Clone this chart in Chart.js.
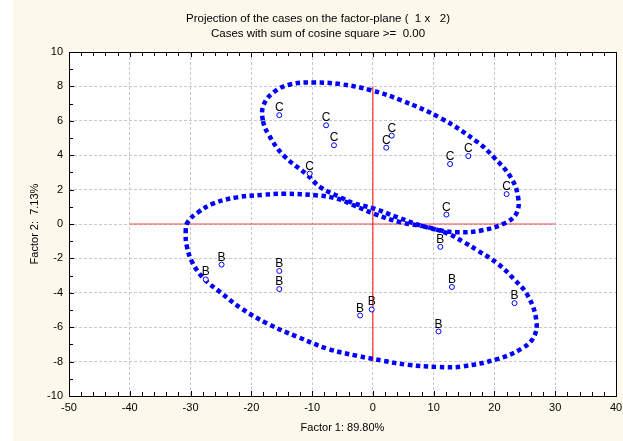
<!DOCTYPE html>
<html>
<head>
<meta charset="utf-8">
<script src="https://cdn.jsdelivr.net/npm/chart.js@4.4.1/dist/chart.umd.min.js"></script>
<style>
  html, body { margin: 0; padding: 0; background: #fff; }
</style>
</head>
<body>
<canvas id="plane" width="623" height="441"></canvas>
<script>
const titleLines = ['Projection of the cases on the factor-plane (  1 x   2)', 'Cases with sum of cosine square >=  0.00'];
const xTitle = 'Factor 1: 89.80%';
const yTitle = 'Factor 2:  7.13%';
const xTicks = [-50, -40, -30, -20, -10, 0, 10, 20, 30, 40];
const yTicks = [-10, -8, -6, -4, -2, 0, 2, 4, 6, 8, 10];

// cases, group C
const cX = [-15.4, -7.7, -6.4, 2.2, 3.1, -10.4, 15.7, 12.7, 22.0, 12.1];
const cY = [6.33, 5.74, 4.58, 4.44, 5.14, 2.93, 3.95, 3.49, 1.74, 0.55];
// cases, group B
const bX = [-24.9, -27.5, -15.4, -15.4, -2.1, -0.2, 11.1, 13.0, 23.3, 10.8];
const bY = [-2.36, -3.22, -2.73, -3.78, -5.32, -4.97, -1.33, -3.66, -4.60, -6.25];

// ellipse outlines (clockwise)
const ellCX = [-18.1, -18.0, -16.3, -13.5, -9.7, -5.3, -0.3, 4.6, 11.2, 17.3, 19.9, 22.7, 23.9, 23.6, 21.6, 17.8, 14.0, 11.2, 7.9, 4.1, 0.2, -3.1, -5.3, -8.6, -10.7, -14.7, -17.1];
const ellCY = [6.03, 6.91, 7.67, 8.13, 8.23, 8.13, 7.78, 7.20, 6.15, 4.74, 3.88, 2.71, 1.55, 0.61, 0.03, -0.38, -0.48, -0.38, -0.09, 0.38, 0.90, 1.20, 1.55, 2.13, 2.83, 3.99, 5.16];
const ellBX = [-30.8, -30.5, -28.8, -26.2, -22.4, -18.0, -14.7, -9.1, -5.8, -3.1, 0.2, 4.6, 9.1, 12.4, 15.0, 17.3, 20.6, 23.2, 25.5, 26.9, 26.4, 24.4, 20.6, 14.5, 10.7, 5.8, 1.8, -2.5, -7.4, -12.4, -17.3, -21.8, -25.0, -27.8, -29.7, -30.6];
const ellBY = [-0.50, 0.09, 0.67, 1.20, 1.55, 1.70, 1.76, 1.66, 1.47, 1.08, 0.59, 0.10, -0.19, -0.57, -1.06, -1.55, -2.32, -3.20, -4.17, -5.63, -6.62, -7.26, -7.84, -8.29, -8.31, -8.19, -7.96, -7.67, -7.26, -6.56, -5.80, -4.87, -3.99, -3.18, -2.24, -1.31];

// red reference lines
const vLineX = [0, 0];
const vLineY = [-8, 8];
const hLineX = [-40, 30];
const hLineY = [0, 0];

const FONT = "'Liberation Sans', Arial, sans-serif";

function toPoints(xs, ys) {
    return xs.map((x, i) => ({x: x, y: ys[i]}));
}

// wrap the outline so the spline is smooth where it closes; the two extra segments are hidden
function closedOutline(xs, ys) {
    const pts = toPoints(xs, ys);
    const n = pts.length;
    return [pts[n - 1]].concat(pts, [pts[0], pts[1]]);
}

function outlineDataset(xs, ys) {
    const data = closedOutline(xs, ys);
    const last = data.length - 1;
    return {
        data: data,
        showLine: true,
        borderColor: '#0000ff',
        borderWidth: 4.5,
        borderDash: [4.5, 3.5],
        borderCapStyle: 'butt',
        tension: 0.4,
        pointRadius: 0,
        pointHitRadius: 0,
        order: 1,
        segment: {
            borderColor: c => (c.p0DataIndex === 0 || c.p1DataIndex === last) ? 'rgba(0,0,0,0)' : undefined
        }
    };
}

function casesDataset(xs, ys, name) {
    return {
        data: toPoints(xs, ys),
        caseLabel: name,
        pointStyle: 'circle',
        pointRadius: 2.5,
        borderWidth: 1,
        borderColor: '#0000ff',
        backgroundColor: '#ffffff',
        order: 0
    };
}

const backdrop = {
    id: 'backdrop',
    beforeDraw(chart) {
        const ctx = chart.ctx;
        const a = chart.chartArea;
        ctx.save();
        ctx.fillStyle = '#ffffff';
        ctx.fillRect(0, 0, chart.width, chart.height);
        ctx.fillStyle = '#fdf8ec';
        ctx.fillRect(13, 0, chart.width - 13, chart.height);
        ctx.fillStyle = '#ffffff';
        ctx.fillRect(a.left, a.top, a.right - a.left, a.bottom - a.top);
        ctx.restore();
    }
};

const caseLabels = {
    id: 'caseLabels',
    afterDatasetsDraw(chart) {
        const ctx = chart.ctx;
        ctx.save();
        ctx.font = '12px ' + FONT;
        ctx.fillStyle = '#000';
        ctx.textAlign = 'center';
        ctx.textBaseline = 'alphabetic';
        chart.data.datasets.forEach((ds, i) => {
            if (!ds.caseLabel) return;
            chart.getDatasetMeta(i).data.forEach(el => {
                ctx.fillText(ds.caseLabel, el.x, el.y - 4);
            });
        });
        ctx.restore();
    }
};

// black frame with inward major and minor ticks
const frame = {
    id: 'frame',
    afterDraw(chart) {
        const ctx = chart.ctx;
        const a = chart.chartArea;
        const xs = chart.scales.x, ys = chart.scales.y;
        ctx.save();
        ctx.strokeStyle = '#000';
        ctx.lineWidth = 1;
        ctx.beginPath();
        for (let v = xs.min; v <= xs.max; v += 2) {
            const px = Math.round(xs.getPixelForValue(v)) + 0.5;
            const len = xTicks.includes(v) ? 5 : 4;
            ctx.moveTo(px, a.bottom);
            ctx.lineTo(px, a.bottom - len);
            ctx.moveTo(px, a.top);
            ctx.lineTo(px, a.top + len);
        }
        for (let v = ys.min; v <= ys.max; v += 1) {
            const py = Math.round(ys.getPixelForValue(v)) + 0.5;
            const len = yTicks.includes(v) ? 5 : 4;
            ctx.moveTo(a.left, py);
            ctx.lineTo(a.left + len, py);
        }
        ctx.stroke();
        ctx.strokeRect(Math.round(a.left) + 0.5, Math.round(a.top) + 0.5,
            Math.round(a.right - a.left), Math.round(a.bottom - a.top));
        ctx.restore();
    }
};

new Chart(document.getElementById('plane'), {
    type: 'scatter',
    data: {
        datasets: [
            casesDataset(cX, cY, 'C'),
            casesDataset(bX, bY, 'B'),
            outlineDataset(ellCX, ellCY),
            outlineDataset(ellBX, ellBY),
            {
                data: toPoints(vLineX, vLineY),
                showLine: true, borderColor: '#ff0000', borderWidth: 1,
                pointRadius: 0, order: 2
            },
            {
                data: toPoints(hLineX, hLineY),
                showLine: true, borderColor: 'rgba(240,80,80,0.7)', borderWidth: 1.6,
                pointRadius: 0, order: 2
            }
        ]
    },
    options: {
        responsive: false,
        animation: false,
        events: [],
        layout: { padding: { left: 13, right: 0, top: 0, bottom: 0 } },
        plugins: {
            legend: { display: false },
            tooltip: { enabled: false },
            title: {
                display: true,
                text: titleLines,
                color: '#000',
                font: { family: FONT, size: 11.5, weight: 'normal', lineHeight: 1.35 },
                padding: { top: 11, bottom: 10 }
            }
        },
        scales: {
            x: {
                type: 'linear',
                min: -50, max: 40,
                afterBuildTicks: s => { s.ticks = xTicks.map(v => ({value: v})); },
                afterFit: s => { s.height = 45; s.paddingRight = 7; },
                grid: { color: '#c8c8c8', lineWidth: 1, drawTicks: false },
                border: { display: false, dash: [3, 2] },
                ticks: { color: '#000', padding: 5, font: { family: FONT, size: 11 }, maxRotation: 0 },
                title: { display: true, text: xTitle, color: '#000', font: { family: FONT, size: 11 }, padding: { top: 0, bottom: 6 } }
            },
            y: {
                type: 'linear',
                min: -10, max: 10,
                afterBuildTicks: s => { s.ticks = yTicks.map(v => ({value: v})); },
                afterFit: s => { s.width = 56; },
                grid: { color: '#c8c8c8', lineWidth: 1, drawTicks: false },
                border: { display: false, dash: [3, 2] },
                ticks: { color: '#000', padding: 6, font: { family: FONT, size: 11 } },
                title: { display: true, text: yTitle, color: '#000', font: { family: FONT, size: 11 }, padding: { top: 15, bottom: 0 } }
            }
        }
    },
    plugins: [backdrop, caseLabels, frame]
});
</script>
</body>
</html>
